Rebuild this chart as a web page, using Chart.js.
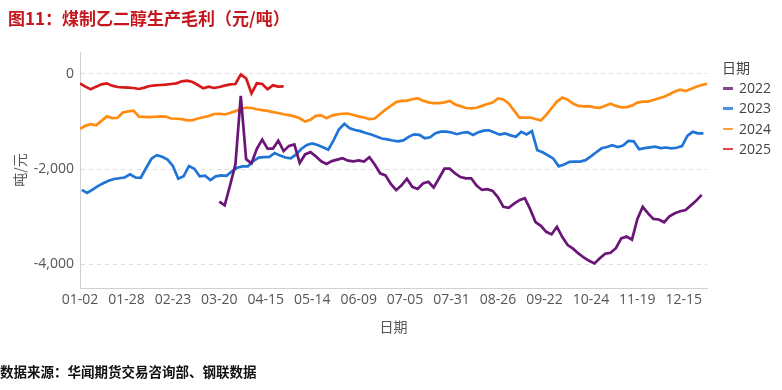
<!DOCTYPE html>
<html>
<head>
<meta charset="utf-8">
<script src="https://cdn.jsdelivr.net/npm/chart.js@4.4.1/dist/chart.umd.min.js"></script>
<style>
  body { margin: 0; background: #fff; }
  #wrap { position: relative; width: 782px; height: 390px; overflow: hidden; }
  #title { position: absolute; left: 8px; top: 5px; font: 700 17px "Noto Sans CJK SC", sans-serif; color: #c4161c; white-space: nowrap; }
  #source { position: absolute; left: 0; top: 361px; font: 700 13.5px "Noto Sans CJK SC", sans-serif; color: #111; white-space: nowrap; }
  #legend { position: absolute; left: 722px; top: 56px; font: 14px "Open Sans", "Noto Sans CJK SC", sans-serif; color: #444; }
  #legend .ttl { height: 22px; line-height: 22px; font-family: "Noto Sans CJK SC", sans-serif; }
  #legend .item { height: 20.3px; line-height: 20.3px; white-space: nowrap; }
  #legend .mk { display: inline-block; width: 10px; height: 2.5px; vertical-align: middle; margin: 0 6px 2px 1px; opacity: 0.8; }
</style>
</head>
<body>
<div id="wrap">
  <div id="title">图11：煤制乙二醇生产毛利（元/吨）</div>
  <canvas id="c" width="782" height="390"></canvas>
  <div id="legend"></div>
  <div id="source">数据来源：华闻期货交易咨询部、钢联数据</div>
</div>
<script>
// --- data (元/吨), one sample every 3 date categories ---
const tickLabels = ['01-02', '01-28', '02-23', '03-20', '04-15', '05-14', '06-09', '07-05', '07-31', '08-26', '09-22', '10-24', '11-19', '12-15'];
const tickEvery = 26;
const yTicks = [0, -2000, -4000];
const years = ['2022', '2023', '2024', '2025'];
const colors = ['#6a1577', '#1f74d6', '#ff8c10', '#d7191c'];
const step = 3;
const starts = [78, 1, 0, 0];

const v2022 = [-2680, -2760, -2340, -1900, -460, -1790, -1876, -1570, -1380, -1570, -1570, -1400, -1620, -1510, -1480,
  -1870, -1690, -1640, -1730, -1835, -1890, -1830, -1800, -1770, -1820, -1835, -1815, -1840, -1750, -1900,
  -2086, -2130, -2310, -2440, -2340, -2200, -2370, -2415, -2300, -2265, -2385, -2190, -1990, -1990, -2090,
  -2165, -2191, -2191, -2345, -2436, -2420, -2455, -2590, -2790, -2810, -2725, -2650, -2611, -2840, -3110,
  -3190, -3315, -3370, -3210, -3425, -3595, -3670, -3770, -3855, -3925, -3980, -3870, -3775, -3755, -3660,
  -3455, -3416, -3480, -3050, -2790, -2930, -3045, -3057, -3115, -2990, -2925, -2885, -2856, -2760, -2660, -2540];

const v2023 = [-2436, -2500, -2430, -2355, -2295, -2245, -2205, -2190, -2175, -2110, -2175, -2180, -1975, -1780, -1705,
  -1740, -1800, -1930, -2200, -2150, -1932, -1990, -2150, -2135, -2230, -2150, -2130, -2140, -2045, -1970,
  -1940, -1940, -1830, -1755, -1748, -1740, -1660, -1715, -1755, -1771, -1690, -1570, -1490, -1460, -1490,
  -1540, -1590, -1390, -1160, -1045, -1140, -1176, -1200, -1240, -1270, -1315, -1355, -1375, -1398, -1415,
  -1395, -1320, -1268, -1280, -1350, -1330, -1245, -1211, -1211, -1230, -1265, -1235, -1220, -1280, -1225,
  -1190, -1182, -1230, -1275, -1250, -1290, -1320, -1215, -1270, -1200, -1600, -1645, -1710, -1780, -1940,
  -1900, -1845, -1841, -1841, -1810, -1730, -1645, -1561, -1535, -1495, -1535, -1505, -1405, -1415, -1580,
  -1556, -1540, -1527, -1558, -1545, -1561, -1550, -1515, -1300, -1215, -1246, -1246];

const v2024 = [-1150, -1090, -1055, -1080, -985, -890, -925, -920, -810, -785, -770, -895, -900, -905, -898,
  -890, -895, -935, -940, -950, -975, -970, -935, -910, -885, -840, -835, -850, -820, -780,
  -735, -705, -715, -740, -760, -775, -800, -820, -845, -865, -890, -930, -1000, -960, -880,
  -870, -930, -875, -850, -835, -830, -862, -890, -915, -950, -935, -840, -750, -670, -590,
  -565, -560, -530, -510, -560, -595, -610, -610, -595, -565, -640, -675, -715, -721, -710,
  -670, -630, -600, -515, -535, -620, -770, -915, -915, -915, -945, -975, -860, -720, -580,
  -495, -540, -620, -670, -680, -676, -700, -710, -665, -625, -670, -700, -697, -665, -600,
  -582, -580, -547, -510, -478, -425, -368, -330, -360, -315, -270, -232, -205];

const v2025 = [-196, -266, -322, -266, -217, -196, -245, -273, -280, -287, -294, -315, -287, -252, -238,
  -231, -224, -210, -196, -154, -140, -168, -231, -301, -266, -294, -273, -245, -217, -210,
  -10, -91, -406, -196, -210, -322, -238, -266, -259];

const series = [v2022, v2023, v2024, v2025];

const tickFont = { family: '"Open Sans", "Noto Sans CJK SC", sans-serif', size: 14 };
const cjkFont = { family: '"Noto Sans CJK SC", sans-serif', size: 14 };

// --- chart ---
const datasets = years.map((y, n) => ({
  label: y,
  data: series[n].map((v, i) => ({ x: starts[n] + i * step, y: v })),
  borderColor: colors[n],
  borderWidth: 2.7,
  pointRadius: 0,
  tension: 0,
  fill: false
}));

new Chart(document.getElementById('c'), {
  type: 'line',
  data: { datasets },
  options: {
    responsive: false,
    animation: false,
    layout: { padding: { left: 0, top: 52, right: 75, bottom: 0 } },
    plugins: { legend: { display: false }, tooltip: { enabled: false } },
    scales: {
      x: {
        type: 'linear', min: 0, max: 351,
        afterFit: s => { s.height = 102; },
        afterBuildTicks: s => { s.ticks = tickLabels.map((t, i) => ({ value: i * tickEvery })); },
        grid: { display: false, drawTicks: false },
        border: { color: '#d0d0d0' },
        ticks: {
          autoSkip: false, maxRotation: 0, padding: 4,
          color: '#555', font: tickFont,
          callback: v => tickLabels[Math.round(v / tickEvery)] || ''
        },
        title: { display: true, text: '日期', color: '#555', font: cjkFont, padding: { top: 0, bottom: 54.6 } }
      },
      y: {
        min: -4496, max: 462,
        afterFit: s => { s.width = 80; },
        afterBuildTicks: s => { s.ticks = yTicks.map(v => ({ value: v })); },
        grid: { color: '#dedede', drawTicks: false, lineWidth: 1 },
        border: { color: '#d0d0d0', dash: [4, 4] },
        ticks: {
          padding: 6, color: '#555', font: tickFont,
          callback: v => v.toLocaleString('en-US')
        },
        title: { display: true, text: '吨/元', color: '#555', font: cjkFont, padding: { top: 11.6, bottom: 0 } }
      }
    }
  }
});

// legend
const lg = document.getElementById('legend');
lg.innerHTML = '<div class="ttl">日期</div>' + years.map((y, n) =>
  `<div class="item"><span class="mk" style="background:${colors[n]}"></span>${y}</div>`).join('');
</script>
</body>
</html>
